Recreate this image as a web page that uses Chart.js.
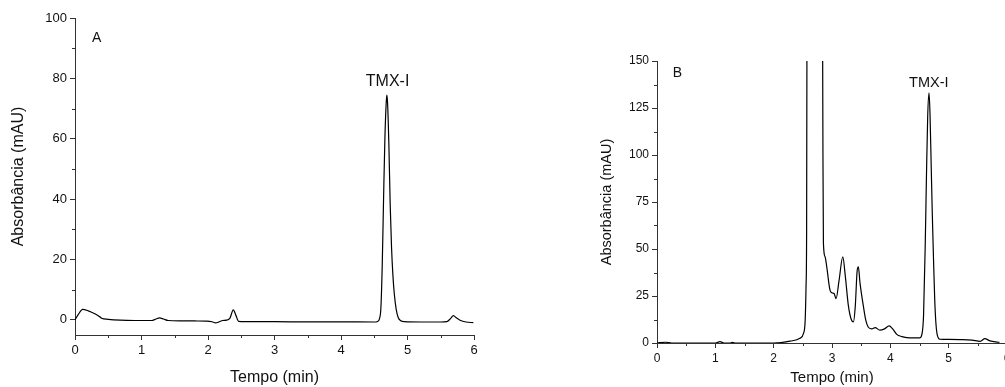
<!DOCTYPE html>
<html><head><meta charset="utf-8">
<script src="https://cdn.jsdelivr.net/npm/chart.js@4/dist/chart.umd.min.js"></script>
<style>
html,body{margin:0;padding:0;background:#fff;overflow:hidden;width:1005px;height:387px;}
#a{position:absolute;left:0;top:0}
#b{position:absolute;left:590px;top:0}
</style>
</head><body>
<canvas id="a" width="500" height="387"></canvas>
<canvas id="b" width="440" height="387"></canvas>
<script>
// ---- Panel A data ----
const timeA = [0, 0.05, 0.115, 0.2, 0.30, 0.35, 0.40, 0.5, 0.68, 0.9, 1.15, 1.22, 1.27, 1.33, 1.40, 1.6, 1.8, 1.98, 2.06, 2.115, 2.17, 2.22, 2.28, 2.33, 2.38, 2.42, 2.46, 2.55, 3.0, 3.5, 4.0, 4.5, 4.55, 4.58, 4.60, 4.62, 4.64, 4.66, 4.68, 4.69, 4.70, 4.72, 4.74, 4.76, 4.78, 4.80, 4.83, 4.86, 4.90, 4.95, 5.2, 5.5, 5.59, 5.65, 5.69, 5.74, 5.79, 5.88, 5.99];
const absA = [0, 1.8, 3.5, 3.0, 2.0, 1.4, 0.55, 0.2, -0.1, -0.2, -0.2, 0.3, 0.66, 0.3, -0.2, -0.3, -0.35, -0.4, -0.6, -1.0, -0.6, -0.2, -0.1, 0.6, 3.3, 1.5, -0.5, -0.6, -0.6, -0.65, -0.65, -0.7, -0.5, 0.5, 4, 18, 40, 60, 72, 74.5, 72, 58, 38, 24, 15, 9, 3.5, 0.8, -0.3, -0.6, -0.7, -0.7, -0.6, 0.5, 1.4, 0.6, -0.1, -0.7, -0.9];
// ---- Panel B data ----
const timeB = [0, 0.15, 0.25, 1.0, 1.08, 1.15, 1.25, 1.29, 1.35, 2.0, 2.28, 2.45, 2.51, 2.54, 2.555, 2.565, 2.575, 2.60, 2.70, 2.80, 2.835, 2.845, 2.853, 2.88, 2.91, 2.967, 3.007, 3.036, 3.07, 3.12, 3.185, 3.23, 3.28, 3.33, 3.367, 3.40, 3.43, 3.452, 3.48, 3.54, 3.58, 3.62, 3.68, 3.74, 3.82, 3.90, 3.98, 4.04, 4.11, 4.20, 4.28, 4.40, 4.50, 4.54, 4.57, 4.60, 4.62, 4.64, 4.663, 4.68, 4.70, 4.72, 4.74, 4.76, 4.78, 4.80, 4.85, 5.0, 5.2, 5.40, 5.54, 5.62, 5.71, 5.85, 5.87];
const absB = [0, 0.4, 0, 0, 0.7, 0, 0, 0.3, 0, 0, 1, 2.5, 5, 12, 30, 60, 250, 450, 550, 420, 200, 100, 53, 46, 40.5, 28, 26.6, 26.3, 23.6, 33, 45.8, 35, 20, 12.5, 11.2, 20, 38, 40.5, 32, 19.2, 12, 8.5, 7.5, 8.2, 6.8, 7.5, 9.1, 7.5, 4.6, 3.4, 2.9, 2.7, 2.7, 4.5, 15, 55, 90, 120, 133, 122, 95, 68, 45, 24, 11, 5, 2.0, 1.9, 1.8, 1.5, 0.9, 2.3, 1.1, 0.4, 0.3];
// ---- Ticks ----
const xTicks = [0, 1, 2, 3, 4, 5, 6];
const xMinor = [0.5, 1.5, 2.5, 3.5, 4.5, 5.5];
const yTicksA = [0, 20, 40, 60, 80, 100];
const yMinorA = [10, 30, 50, 70, 90];
const yTicksB = [0, 25, 50, 75, 100, 125, 150];
const yMinorB = [12.5, 37.5, 62.5, 87.5, 112.5, 137.5];
// ---- Texts ----
const xTitle = 'Tempo (min)';
const yTitle = 'Absorbância (mAU)';
const peakName = 'TMX-I';

const AXIS = '#333333';
const FONT = "'Liberation Sans', Arial, sans-serif";

const deco = {
  id: 'deco',
  afterDraw(chart, args, o) {
    const ctx = chart.ctx, xs = chart.scales.x, ys = chart.scales.y;
    ctx.save();
    ctx.strokeStyle = AXIS; ctx.lineWidth = 1;
    (o.minorX || []).forEach(v => {
      const px = Math.round(xs.getPixelForValue(v)) + 0.5;
      ctx.beginPath(); ctx.moveTo(px, xs.top); ctx.lineTo(px, xs.top + o.minorLen); ctx.stroke();
    });
    (o.minorY || []).forEach(v => {
      const py = Math.round(ys.getPixelForValue(v)) + 0.5;
      ctx.beginPath(); ctx.moveTo(ys.right, py); ctx.lineTo(ys.right - o.minorLen, py); ctx.stroke();
    });
    ctx.fillStyle = '#111';
    (o.labels || []).forEach(l => {
      ctx.font = l.size + 'px ' + FONT;
      ctx.textAlign = l.align; ctx.textBaseline = 'alphabetic';
      ctx.fillText(l.text, xs.getPixelForValue(l.x), ys.getPixelForValue(l.y));
    });
    ctx.restore();
  }
};

function makeChart(id, t, v, cfg) {
  return new Chart(document.getElementById(id), {
    type: 'line',
    data: { datasets: [{ data: t.map((x, i) => ({ x: x, y: v[i] })), borderColor: '#000', borderWidth: 1.2, pointRadius: 0, fill: false, cubicInterpolationMode: 'monotone' }] },
    options: {
      responsive: false, animation: false, devicePixelRatio: 1,
      layout: { padding: cfg.padding },
      plugins: { legend: { display: false }, tooltip: { enabled: false },
        deco: { minorX: xMinor, minorY: cfg.minorY, minorLen: 3, labels: cfg.labels } },
      scales: {
        x: {
          type: 'linear', min: 0, max: 6,
          afterBuildTicks: s => { s.ticks = xTicks.map(x => ({ value: x })); },
          afterFit: s => { s.height = cfg.xH; },
          border: { display: true, color: AXIS, width: 1 },
          grid: { display: true, drawOnChartArea: false, drawTicks: true, tickLength: 5, color: AXIS },
          ticks: { color: '#111', font: { family: FONT, size: cfg.tick }, padding: 3, maxRotation: 0, autoSkip: false },
          title: { display: true, text: xTitle, color: '#111', font: { family: FONT, size: cfg.xTitleSize }, padding: { top: 0, bottom: 0 } }
        },
        y: {
          type: 'linear', min: cfg.yMin, max: cfg.yMax,
          afterBuildTicks: s => { s.ticks = cfg.yTicks.map(y => ({ value: y })); },
          afterFit: s => { s.width = cfg.yW; },
          border: { display: true, color: AXIS, width: 1 },
          grid: { display: true, drawOnChartArea: false, drawTicks: true, tickLength: 5, color: AXIS },
          ticks: { color: '#111', font: { family: FONT, size: cfg.tick }, padding: 3, autoSkip: false },
          title: { display: true, text: yTitle, color: '#111', font: { family: FONT, size: cfg.yTitleSize }, padding: { top: cfg.yTitlePad, bottom: 0 } }
        }
      }
    },
    plugins: [deco]
  });
}

makeChart('a', timeA, absA, {
  padding: { top: 18, right: 26, left: 0, bottom: 0 },
  xH: 52, yW: 75, tick: 13, xTitleSize: 16, yTitleSize: 16, yTitlePad: 9,
  yMin: -5, yMax: 100, yTicks: yTicksA, minorY: yMinorA,
  labels: [
    { text: peakName, x: 4.70, y: 77.5, align: 'center', size: 16 },
    { text: 'A', x: 0.256, y: 92, align: 'left', size: 14 }
  ]
});

makeChart('b', timeB, absB, {
  padding: { top: 61, right: 23, left: 0, bottom: 0 },
  xH: 44, yW: 67, tick: 12, xTitleSize: 15, yTitleSize: 14.5, yTitlePad: 8,
  yMin: 0, yMax: 150, yTicks: yTicksB, minorY: yMinorB,
  labels: [
    { text: peakName, x: 4.66, y: 136.3, align: 'center', size: 14.5 },
    { text: 'B', x: 0.27, y: 141.5, align: 'left', size: 14 }
  ]
});
</script>
</body></html>
